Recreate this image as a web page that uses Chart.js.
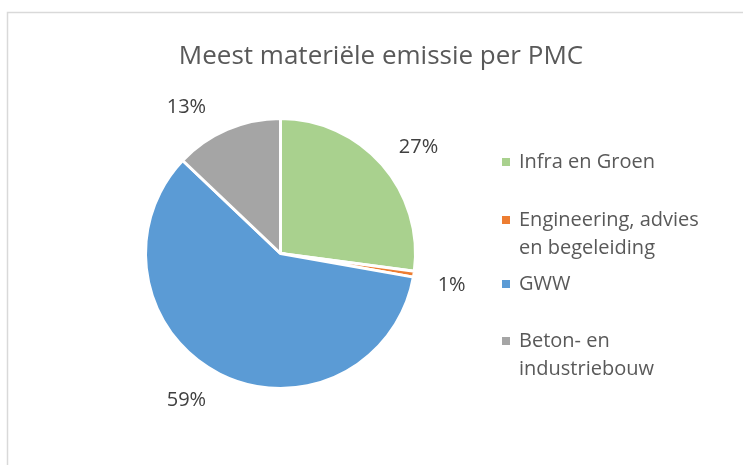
<!DOCTYPE html>
<html>
<head>
<meta charset="utf-8">
<script src="https://cdn.jsdelivr.net/npm/chart.js@4/dist/chart.umd.min.js"></script>
<style>
  html, body { margin: 0; padding: 0; background: #fff; }
  #wrap { width: 743px; height: 465px; }
</style>
</head>
<body>
<div id="wrap"><canvas id="myChart" width="743" height="465"></canvas></div>
<script>
var chartTitle = "Meest materiële emissie per PMC";
var labels = ["Infra en Groen", "Engineering, advies\nen begeleiding", "GWW", "Beton- en\nindustriebouw"];
var data = [27.1, 0.7, 59.3, 12.9];
var colors = ["#a9d18e", "#ed7d31", "#5b9bd5", "#a5a5a5"];

// small angle nudges (degrees) for the "best fit" label placement
var labelNudge = [3.7, 1.6, 5.9, -9.5];

var fontName = "'Open Sans', sans-serif";

var decorPlugin = {
    id: 'decor',
    beforeDraw: function (chart) {
        var ctx = chart.ctx;
        ctx.save();
        ctx.fillStyle = '#fff';
        ctx.fillRect(0, 0, chart.width, chart.height);
        ctx.strokeStyle = '#d9d9d9';
        ctx.lineWidth = 1.5;
        ctx.strokeRect(7.5, 12.5, chart.width, chart.height);
        ctx.restore();
    },
    afterDraw: function (chart) {
        var ctx = chart.ctx;
        ctx.save();
        // title
        ctx.fillStyle = '#595959';
        ctx.font = '26px ' + fontName;
        ctx.textAlign = 'center';
        ctx.textBaseline = 'middle';
        ctx.fillText(chartTitle, 381, 57);

        // percentage labels
        var meta = chart.getDatasetMeta(0);
        var total = data.reduce(function (a, b) { return a + b; }, 0);
        ctx.fillStyle = '#404040';
        ctx.font = '20px ' + fontName;
        meta.data.forEach(function (arc, i) {
            var mid = (arc.startAngle + arc.endAngle) / 2 + labelNudge[i] * Math.PI / 180;
            var d = arc.outerRadius + 39;
            var x = arc.x + Math.cos(mid) * d;
            var y = arc.y + Math.sin(mid) * d;
            ctx.fillText(Math.round(data[i] / total * 100) + '%', x, y);
        });

        // legend
        ctx.font = '20px ' + fontName;
        ctx.textAlign = 'left';
        var ys = [162, 220, 284, 341];
        for (var i = 0; i < labels.length; i++) {
            var lines = labels[i].split('\n');
            ctx.fillStyle = colors[i];
            ctx.fillRect(502, ys[i] - 4, 8, 8);
            ctx.fillStyle = '#595959';
            for (var j = 0; j < lines.length; j++) {
                ctx.fillText(lines[j], 519, ys[i] + j * 28);
            }
        }
        ctx.restore();
    }
};

var ctx = document.getElementById("myChart").getContext('2d');
var myChart = new Chart(ctx, {
    type: 'pie',
    data: {
        labels: labels,
        datasets: [{
            data: data,
            backgroundColor: colors,
            borderColor: '#ffffff',
            borderWidth: 3
        }]
    },
    options: {
        responsive: false,
        animation: false,
        layout: { padding: { left: 144, right: 326, top: 117, bottom: 75 } },
        plugins: {
            legend: { display: false },
            tooltip: { enabled: false }
        }
    },
    plugins: [decorPlugin]
});
</script>
</body>
</html>
